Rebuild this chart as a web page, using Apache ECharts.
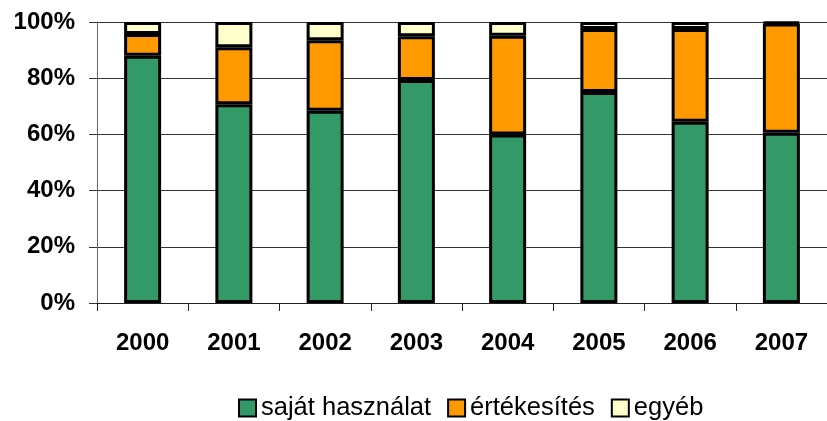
<!DOCTYPE html>
<html>
<head>
<meta charset="utf-8">
<script src="https://cdn.jsdelivr.net/npm/echarts@6/dist/echarts.min.js"></script>
<style>
	html, body { margin: 0; padding: 0; background: #fff; }
	#chart { width: 827px; height: 421px; }
</style>
</head>
<body>
<div id="chart"></div>
<script>
const years = ['2000', '2001', '2002', '2003', '2004', '2005', '2006', '2007'];
const sajatHasznalat = [88.0, 70.7, 68.4, 79.4, 60.0, 75.1, 64.5, 60.6];
const ertekesites = [7.7, 20.3, 25.1, 15.5, 35.1, 22.4, 33.0, 38.9];
const egyeb = [4.3, 9.0, 6.5, 5.1, 4.9, 2.5, 2.5, 0.5];
const yTicks = [0, 20, 40, 60, 80, 100];

const font = '"Liberation Sans", Arial, sans-serif';

function barSeries(name, data, color) {
	return {
		name: name,
		type: 'bar',
		stack: 'total',
		data: data,
		barWidth: 37,
		itemStyle: { color: color, borderColor: '#000', borderWidth: 3 }
	};
}

const myChart = echarts.init(document.getElementById('chart'));
myChart.setOption({
	animation: false,
	grid: { left: 97, top: 22, bottom: 118, right: -11 },
	legend: {
		bottom: -5,
		left: 233,
		itemWidth: 17,
		itemHeight: 17,
		itemGap: 16,
		icon: 'rect',
		itemStyle: { borderColor: '#000', borderWidth: 2 },
		textStyle: { fontFamily: font, fontSize: 25.5, color: '#000' },
		data: ['saját használat', 'értékesítés', 'egyéb']
	},
	xAxis: {
		type: 'category',
		data: years,
		axisLine: { lineStyle: { color: '#222', width: 1 } },
		axisTick: { show: true, length: 8, lineStyle: { color: '#222' } },
		axisLabel: { fontFamily: font, fontSize: 24, fontWeight: 'bold', color: '#000', margin: 28 }
	},
	yAxis: {
		type: 'value',
		min: yTicks[0],
		max: yTicks[yTicks.length - 1],
		interval: 20,
		axisLine: { show: true, lineStyle: { color: '#666', width: 1 } },
		axisTick: { show: true, length: 8, lineStyle: { color: '#333' } },
		axisLabel: { fontFamily: font, fontSize: 24, fontWeight: 'bold', color: '#000', margin: 22, formatter: '{value}%' },
		splitLine: { show: true, lineStyle: { color: '#333', width: 1 } }
	},
	series: [
		barSeries('saját használat', sajatHasznalat, '#339966'),
		barSeries('értékesítés', ertekesites, '#FF9900'),
		barSeries('egyéb', egyeb, '#FFFFCC')
	]
});
</script>
</body>
</html>
